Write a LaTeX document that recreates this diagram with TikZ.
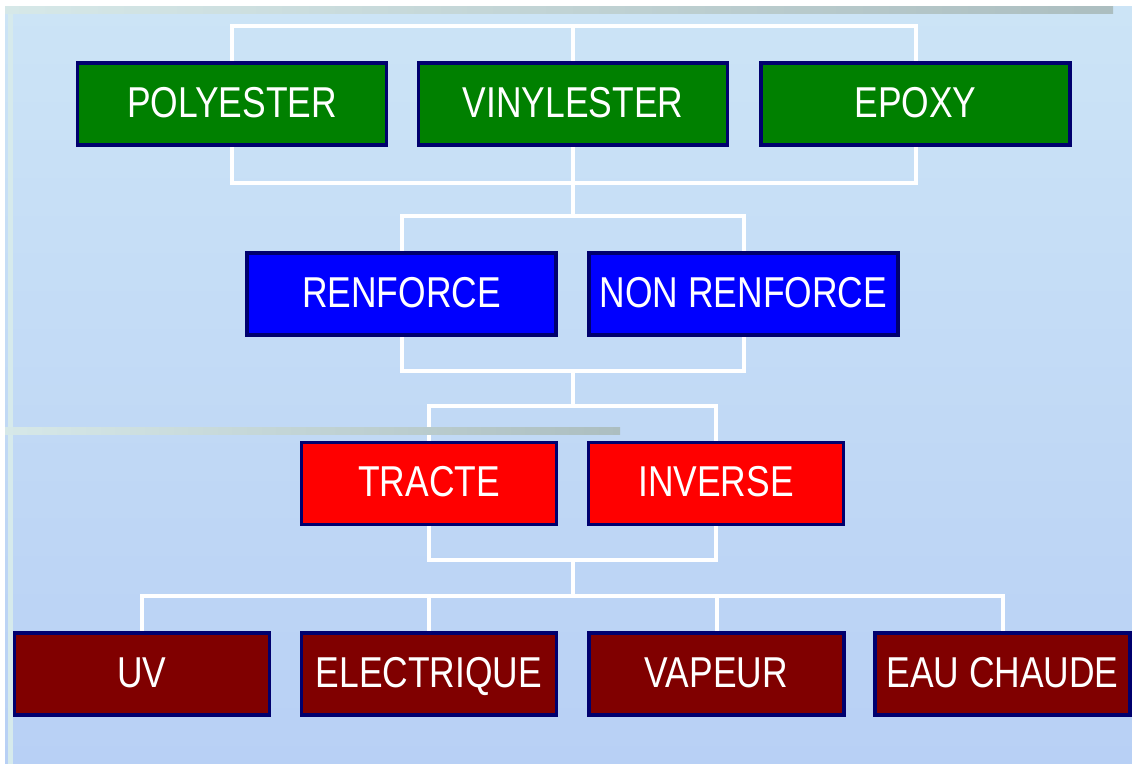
\documentclass[tikz,border=0pt]{standalone}
\usepackage{fontspec}
\setmainfont{Liberation Sans}[FakeStretch=0.82]
\usetikzlibrary{backgrounds}
\definecolor{navyb}{RGB}{0,0,110}
\definecolor{gfill}{RGB}{0,128,0}
\definecolor{bfill}{RGB}{0,0,255}
\definecolor{rfill}{RGB}{255,0,0}
\definecolor{mfill}{RGB}{128,0,0}
\definecolor{bgtop}{RGB}{204,228,246}
\definecolor{bgbot}{RGB}{184,208,245}
\definecolor{barpale}{RGB}{214,232,232}
\definecolor{bargrey}{RGB}{172,190,192}
\definecolor{edgepale}{RGB}{214,234,236}
\begin{document}
\begin{tikzpicture}[x=0.5pt,y=-0.5pt,
  box/.style={draw=navyb, line width=1.8pt, text=white, inner sep=0pt,
    font=\fontsize{21.6}{24}\selectfont, text height=15.5pt, text depth=2pt,
    minimum height=41pt},
  wide/.style={box, minimum width=154.5pt},
  narrow/.style={box, minimum width=127.5pt},
  conn/.style={draw=white, line width=2pt}]
\useasboundingbox (0,0) rectangle (1132,764);
% nodes
\node[wide, fill=gfill] (poly)  at (232,104)   {POLYESTER};
\node[wide, fill=gfill] (vinyl) at (573,104)   {VINYLESTER};
\node[wide, fill=gfill] (epoxy) at (915.5,104) {EPOXY};
\node[wide, fill=bfill] (renf)  at (401.5,294) {RENFORCE};
\node[wide, fill=bfill] (nrenf) at (743.5,294) {NON RENFORCE};
\node[narrow, fill=rfill] (trac) at (429,483.5) {TRACTE};
\node[narrow, fill=rfill] (inv)  at (716,483.5) {INVERSE};
\node[narrow, fill=mfill] (uv)   at (142,674)   {UV};
\node[narrow, fill=mfill] (elec) at (429,674)   {ELECTRIQUE};
\node[narrow, fill=mfill] (vap)  at (716.5,674) {VAPEUR};
\node[narrow, fill=mfill] (eau)  at (1002.5,674) {EAU CHAUDE};
\begin{scope}[on background layer]
  \fill[white] (0,0) rectangle (1132,764);
  \shade[top color=bgtop, bottom color=bgbot] (5,7) rectangle (1132,764);
  \fill[edgepale] (8,7) rectangle (13,764);
  % connectors
  \draw[conn] (poly.north) -- ++(0,-35) -| (epoxy.north);
  \draw[conn] (vinyl.north) -- ++(0,-35);
  \draw[conn] (poly.south) -- ++(0,36) -| (epoxy.south);
  \draw[conn] (vinyl.south) -- ++(0,69) coordinate (j1);
  \draw[conn] (renf.north) |- (j1) -| (nrenf.north);
  \draw[conn] (renf.south) -- ++(0,34) -| (nrenf.south);
  \draw[conn] (vinyl.south |- renf.south) ++(0,34) -- ++(0,35) coordinate (j2);
  \draw[conn] (trac.north) |- (j2) -| (inv.north);
  \draw[conn] (trac.south) -- ++(0,34) -| (inv.south);
  \draw[conn] (vinyl.south |- trac.south) ++(0,34) -- ++(0,36) coordinate (j3);
  \draw[conn] (uv.north) |- (j3) -| (eau.north);
  \draw[conn] (elec.north) -- (elec.north |- j3);
  \draw[conn] (vap.north) -- (vap.north |- j3);
  % decorative bars
  \shade[left color=barpale, right color=bargrey] (5,7) rectangle (1113,14);
  \shade[left color=barpale, right color=bargrey] (5,428) rectangle (620,435);
\end{scope}
\end{tikzpicture}
\end{document}
